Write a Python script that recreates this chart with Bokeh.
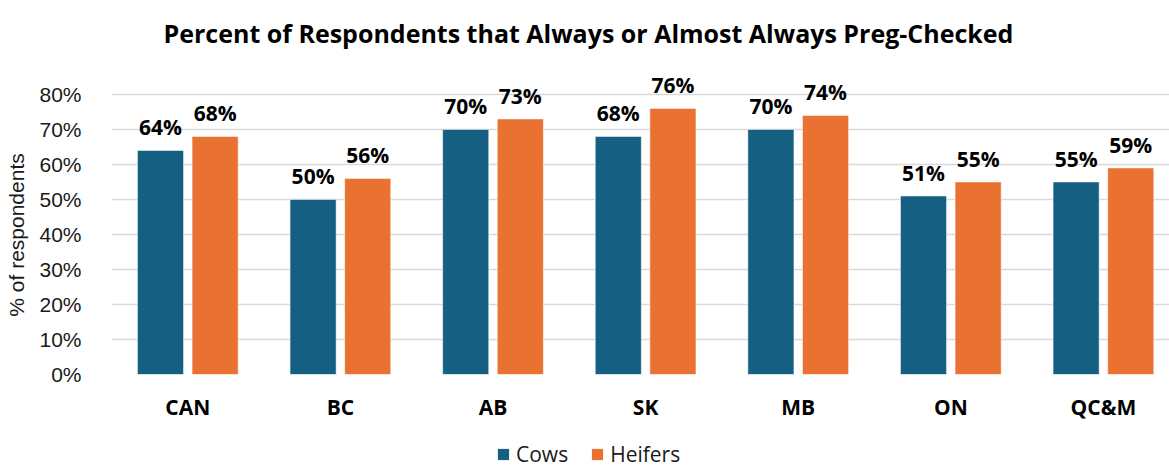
from bokeh.plotting import figure
from bokeh.layouts import column
from bokeh.models import Range1d, FixedTicker, NumeralTickFormatter, Legend, LegendItem, ColumnDataSource
from bokeh.core.properties import value
from bokeh.embed import file_html
from bokeh.resources import INLINE

regions = ["CAN", "BC", "AB", "SK", "MB", "ON", "QC&M"]
cows = [64, 50, 70, 68, 70, 51, 55]
heifers = [68, 56, 73, 76, 74, 55, 59]
y_ticks = [0, 10, 20, 30, 40, 50, 60, 70, 80]
series_names = ["Cows", "Heifers"]

COW_COLOR = "#156082"
HEIFER_COLOR = "#E97132"
MAIN_FONT = "Open Sans"
TICK_FONT = "Liberation Sans"

p = figure(width=1169, height=440, output_backend="svg", toolbar_location=None,
           x_range=Range1d(0, 6.933), y_range=Range1d(0, 89.7),
           min_border_left=111, min_border_right=0, min_border_top=60, min_border_bottom=66,
           title="Percent of Respondents that Always or Almost Always Preg-Checked")

p.title.align = "left"
p.title.text_font = MAIN_FONT
p.title.text_font_style = "bold"
p.title.text_font_size = "25px"
p.title.text_color = "#000000"
p.title.offset = 52
p.title.standoff = 22

p.outline_line_color = None
p.background_fill_color = "white"
p.border_fill_color = "white"

centers = [i + 0.5 for i in range(len(regions))]
off = 0.179
bw = 0.302
src = ColumnDataSource(dict(
    xc=[c - off for c in centers], xh=[c + off for c in centers],
    cows=cows, heifers=heifers,
    lc=[f"{v}%" for v in cows], lh=[f"{v}%" for v in heifers],
))

bar_style = dict(width=bw, bottom=0, source=src, line_color="white", line_alpha=0.5, line_width=1)
p.vbar(x="xc", top="cows", fill_color=COW_COLOR, **bar_style)
p.vbar(x="xh", top="heifers", fill_color=HEIFER_COLOR, **bar_style)

for xcol, ycol, lcol in (("xc", "cows", "lc"), ("xh", "heifers", "lh")):
    p.text(x=xcol, y=ycol, text=lcol, source=src, text_align="center",
           text_baseline="alphabetic", y_offset=-23,
           text_font=value(MAIN_FONT), text_font_style="bold",
           text_font_size="21px", text_color="#000000")

# category axis
p.xaxis.ticker = FixedTicker(ticks=centers)
p.xaxis.major_label_overrides = {c: r for c, r in zip(centers, regions)}
p.xaxis.major_label_text_font = MAIN_FONT
p.xaxis.major_label_text_font_style = "bold"
p.xaxis.major_label_text_font_size = "21px"
p.xaxis.major_label_text_color = "#000000"
p.xaxis.major_label_standoff = 12
p.xaxis.axis_line_color = None
p.xaxis.major_tick_line_color = None
p.xaxis.minor_tick_line_color = None
p.xgrid.grid_line_color = None

# percentage axis
p.yaxis.ticker = FixedTicker(ticks=y_ticks)
p.yaxis.formatter = NumeralTickFormatter(format="0")
p.yaxis.major_label_overrides = {t: f"{t}%" for t in y_ticks}
p.yaxis.major_label_text_font = TICK_FONT
p.yaxis.major_label_text_font_size = "21px"
p.yaxis.major_label_text_color = "#1a1a1a"
p.yaxis.major_label_standoff = 24
p.yaxis.axis_line_color = None
p.yaxis.major_tick_line_color = None
p.yaxis.minor_tick_line_color = None
p.yaxis.axis_label = "% of respondents" + "\u00a0" * 6
p.yaxis.axis_label_text_font = TICK_FONT
p.yaxis.axis_label_text_font_style = "normal"
p.yaxis.axis_label_text_font_size = "21px"
p.yaxis.axis_label_text_color = "#1a1a1a"
p.yaxis.axis_label_standoff = 8

p.ygrid.grid_line_color = "#d9d9d9"
p.ygrid.grid_line_width = 1.5

# legend strip underneath the chart; its renderers share the bar data but sit
# outside this strip's visible range, so only the legend entries show
lg = figure(width=1169, height=28, output_backend="svg", toolbar_location=None,
            x_range=Range1d(0, 6.933), y_range=Range1d(1000, 1001),
            x_axis_type=None, y_axis_type=None,
            min_border_left=111, min_border_right=0, min_border_top=0, min_border_bottom=0)
lg.outline_line_color = None
lg.xgrid.grid_line_color = None
lg.ygrid.grid_line_color = None
swatches = [lg.vbar(x="xc", top="cows", width=bw, source=src, fill_color=COW_COLOR, line_color=None),
            lg.vbar(x="xh", top="heifers", width=bw, source=src, fill_color=HEIFER_COLOR, line_color=None)]
legend = Legend(items=[LegendItem(label=n, renderers=[r]) for n, r in zip(series_names, swatches)],
                orientation="horizontal", location=(385, 0),
                label_text_font=MAIN_FONT, label_text_font_size="21px",
                label_text_color="#1a1a1a", glyph_width=14, glyph_height=14,
                label_standoff=6, spacing=22, padding=0, margin=0,
                border_line_color=None, background_fill_alpha=0)
lg.add_layout(legend, "center")

layout = column(p, lg, spacing=0)
open("out.html", "w").write(file_html(layout, INLINE))
